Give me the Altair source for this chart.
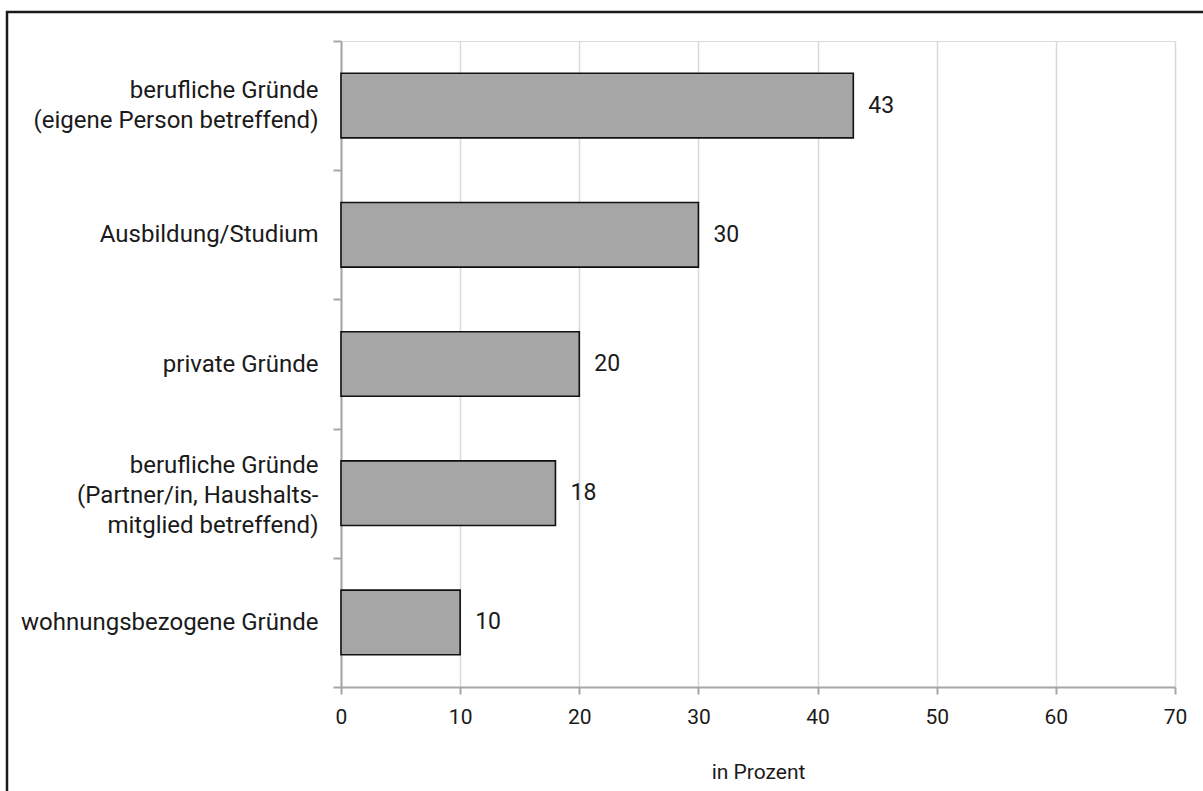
import altair as alt
import pandas as pd

# Gründe für den Umzug, Anteile in Prozent
categories = [
    "berufliche Gründe\n(eigene Person betreffend)",
    "Ausbildung/Studium",
    "private Gründe",
    "berufliche Gründe\n(Partner/in, Haushalts-\nmitglied betreffend)",
    "wohnungsbezogene Gründe",
]
values = [43, 30, 20, 18, 10]
x_ticks = [0, 10, 20, 30, 40, 50, 60, 70]

df = pd.DataFrame({"grund": categories, "anteil": values})

FONT = "Roboto"
FS_AXIS = 21
FS_CAT = 24
LINE_H = 30

# shift multi-line category labels up so each block is centred on its band
n_lines = "length(split(datum.value, '\\n'))"
label_offset = {
    "condition": [
        {"test": f"{n_lines} == 3", "value": -LINE_H + 2},
        {"test": f"{n_lines} == 2", "value": -LINE_H / 2},
    ],
    "value": 0,
}

y_enc = alt.Y(
    "grund:N",
    sort=categories,
    title=None,
    scale=alt.Scale(paddingInner=0, paddingOuter=0),
    axis=alt.Axis(
        labelExpr="split(datum.label, '\\n')",
        labelLineHeight=LINE_H,
        labelOffset=label_offset,
        labelPadding=15,
        labelFontSize=FS_CAT,
        labelColor="#1a1a1a",
        labelLimit=400,
        tickBand="extent",
        tickSize=8,
        tickColor="#a6a6a6",
        tickWidth=2,
        domainColor="#a6a6a6",
        domainWidth=2,
        grid=False,
    ),
)

x_enc = alt.X(
    "anteil:Q",
    title="in Prozent",
    scale=alt.Scale(domain=[0, 70], nice=False),
    axis=alt.Axis(
        values=x_ticks,
        grid=True,
        gridColor="#d9d9d9",
        gridWidth=1.5,
        tickSize=7,
        tickColor="#a6a6a6",
        tickWidth=2,
        domainColor="#a6a6a6",
        domainWidth=2,
        labelFlush=False,
        labelFontSize=FS_AXIS,
        labelColor="#1a1a1a",
        labelPadding=12,
        titleFontSize=FS_AXIS,
        titleFontWeight="normal",
        titleColor="#1a1a1a",
        titlePadding=34,
    ),
)

bars = alt.Chart(df).mark_bar(
    color="#a6a6a6", stroke="#111111", strokeWidth=1.6, height={"band": 0.5}
).encode(x=x_enc, y=y_enc)

labels = alt.Chart(df).mark_text(
    align="left", baseline="middle", dx=15, fontSize=23, font=FONT, color="#1a1a1a"
).encode(x="anteil:Q", y=alt.Y("grund:N", sort=categories), text="anteil:Q")

# outer frame around the figure
frame = alt.Chart(pd.DataFrame({"k": [0]})).mark_rect(
    fill=None, stroke="#1a1a1a", strokeWidth=2.5
).encode(
    x=alt.value(-334),
    x2=alt.value(900),
    y=alt.value(-29),
    y2=alt.value(800),
)

chart = (
    alt.layer(frame, bars, labels)
    .properties(
        width=834,
        height=646,
        autosize=alt.AutoSizeParams(type="none"),
        padding={"left": 341, "top": 41, "right": 28, "bottom": 104},
        background="white",
    )
    .configure_view(stroke="#b3b3b3", strokeWidth=1.5)
    .configure(font=FONT)
)

chart.save("out.html", embed_options={"renderer": "svg", "actions": False})
